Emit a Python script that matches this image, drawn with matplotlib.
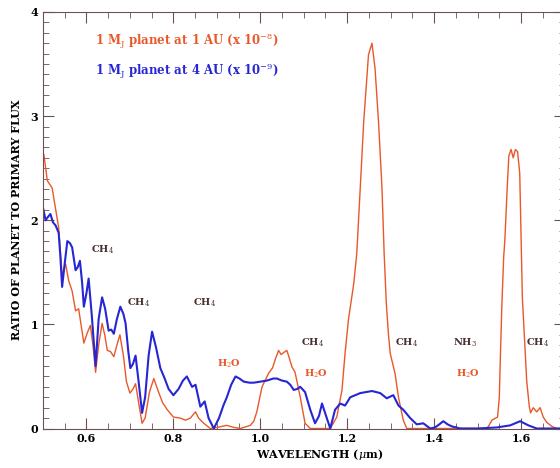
"""
Planet/primary flux ratio vs wavelength, two planet cases.
"""

import matplotlib
matplotlib.use("Agg")
import matplotlib.pyplot as plt
from matplotlib.ticker import MultipleLocator

# 1 M_J planet at 1 AU (x 1e-8)
wl_1au = [0.502, 0.51, 0.521, 0.536, 0.544, 0.552, 0.559, 0.567, 0.575, 0.582,
          0.594, 0.602, 0.609, 0.615, 0.621, 0.628, 0.636, 0.642, 0.648, 0.655,
          0.663, 0.670, 0.677, 0.685, 0.692, 0.700, 0.707, 0.713, 0.720, 0.728,
          0.735, 0.745, 0.755, 0.765, 0.775, 0.786, 0.800, 0.816, 0.828, 0.839,
          0.851, 0.858, 0.870, 0.885, 0.900, 0.923, 0.940, 0.954, 0.977, 0.985,
          0.992, 1.004, 1.019, 1.028, 1.035, 1.042, 1.048, 1.054, 1.061, 1.065,
          1.073, 1.080, 1.092, 1.103, 1.115, 1.140, 1.161, 1.176, 1.188, 1.195,
          1.203, 1.215, 1.222, 1.230, 1.238, 1.249, 1.257, 1.264, 1.272, 1.280,
          1.285, 1.290, 1.295, 1.299, 1.310, 1.318, 1.329, 1.337, 1.400, 1.460,
          1.520, 1.525, 1.533, 1.546, 1.550, 1.552, 1.556, 1.560, 1.563, 1.568,
          1.572, 1.577, 1.582, 1.587, 1.592, 1.597, 1.603, 1.609, 1.613, 1.619,
          1.622, 1.628, 1.636, 1.644, 1.651, 1.659, 1.671, 1.682, 1.700]
flux_1au = [2.63, 2.38, 2.31, 1.93, 1.47, 1.58, 1.42, 1.32, 1.13, 1.15,
            0.82, 0.92, 0.99, 0.80, 0.54, 0.80, 1.01, 0.90, 0.75, 0.74,
            0.69, 0.80, 0.90, 0.70, 0.45, 0.34, 0.38, 0.43, 0.25, 0.05,
            0.10, 0.35, 0.48, 0.36, 0.25, 0.18, 0.11, 0.10, 0.08, 0.10,
            0.16, 0.10, 0.05, 0.00, 0.01, 0.03, 0.01, 0.00, 0.03, 0.07,
            0.16, 0.40, 0.53, 0.58, 0.67, 0.75, 0.71, 0.73, 0.75, 0.70,
            0.59, 0.54, 0.30, 0.05, 0.00, 0.00, 0.00, 0.11, 0.37, 0.72,
            1.05, 1.39, 1.68, 2.31, 2.95, 3.59, 3.70, 3.46, 2.95, 2.31,
            1.68, 1.20, 0.90, 0.72, 0.53, 0.30, 0.08, 0.00, 0.00, 0.00,
            0.00, 0.02, 0.08, 0.11, 0.30, 0.62, 1.20, 1.64, 1.83, 2.30,
            2.62, 2.68, 2.60, 2.68, 2.66, 2.45, 1.26, 0.78, 0.46, 0.21,
            0.15, 0.20, 0.16, 0.20, 0.11, 0.06, 0.02, 0.00, 0.00]

# 1 M_J planet at 4 AU (x 1e-9)
wl_4au = [0.500, 0.506, 0.511, 0.517, 0.523, 0.529, 0.536, 0.540, 0.544, 0.549,
          0.556, 0.562, 0.567, 0.575, 0.580, 0.585, 0.590, 0.594, 0.600, 0.605,
          0.612, 0.621, 0.628, 0.636, 0.643, 0.651, 0.657, 0.663, 0.670, 0.678,
          0.685, 0.690, 0.696, 0.701, 0.707, 0.713, 0.720, 0.728, 0.735, 0.743,
          0.751, 0.760, 0.770, 0.780, 0.789, 0.800, 0.812, 0.822, 0.831, 0.843,
          0.851, 0.862, 0.872, 0.881, 0.893, 0.905, 0.915, 0.923, 0.933, 0.943,
          0.952, 0.962, 0.975, 0.985, 1.000, 1.015, 1.030, 1.038, 1.050, 1.061,
          1.069, 1.077, 1.085, 1.092, 1.103, 1.115, 1.126, 1.135, 1.142, 1.153,
          1.161, 1.172, 1.184, 1.195, 1.207, 1.230, 1.257, 1.276, 1.291, 1.306,
          1.318, 1.329, 1.345, 1.360, 1.375, 1.391, 1.402, 1.412, 1.421, 1.431,
          1.441, 1.460, 1.500, 1.544, 1.575, 1.598, 1.617, 1.636, 1.700]
flux_4au = [2.12, 2.00, 2.03, 2.06, 1.98, 1.95, 1.88, 1.65, 1.36, 1.55,
            1.80, 1.78, 1.74, 1.52, 1.55, 1.61, 1.40, 1.17, 1.30, 1.44,
            1.10, 0.60, 1.05, 1.26, 1.15, 0.94, 0.95, 0.91, 1.05, 1.17,
            1.10, 1.01, 0.75, 0.58, 0.62, 0.70, 0.45, 0.15, 0.30, 0.70,
            0.93, 0.78, 0.58, 0.48, 0.38, 0.32, 0.38, 0.46, 0.50, 0.40,
            0.42, 0.21, 0.26, 0.10, 0.00, 0.10, 0.22, 0.30, 0.42, 0.50,
            0.48, 0.45, 0.44, 0.44, 0.45, 0.46, 0.48, 0.48, 0.46, 0.45,
            0.42, 0.37, 0.38, 0.40, 0.35, 0.18, 0.05, 0.12, 0.24, 0.10,
            0.00, 0.18, 0.24, 0.22, 0.30, 0.34, 0.36, 0.34, 0.29, 0.32,
            0.22, 0.18, 0.10, 0.04, 0.05, 0.00, 0.01, 0.04, 0.07, 0.04,
            0.02, 0.00, 0.00, 0.01, 0.03, 0.07, 0.03, 0.00, 0.00]

# band labels
band_text = [r"CH$_4$", r"CH$_4$", r"CH$_4$", r"H$_2$O", r"CH$_4$", r"H$_2$O",
             r"CH$_4$", r"NH$_3$", r"H$_2$O", r"CH$_4$"]
band_x = [0.638, 0.720, 0.872, 0.927, 1.121, 1.129, 1.336, 1.470, 1.478, 1.639]
band_y = [1.72, 1.21, 1.21, 0.62, 0.82, 0.53, 0.82, 0.82, 0.53, 0.82]
band_water = [False, False, False, True, False, True, False, False, True, False]

orange = "#e8582a"
blue = "#2626d4"
brown = "#4a3030"
spine_col = "#6e5050"

plt.rcParams["font.family"] = "DejaVu Serif"
plt.rcParams["mathtext.fontset"] = "dejavuserif"

fig = plt.figure(figsize=(5.6, 4.68), dpi=100)
ax = fig.add_axes([43 / 560, (468 - 428.5) / 468, (564.5 - 43) / 560, (428.5 - 12) / 468])

ax.plot(wl_1au, flux_1au, color=orange, lw=1.0)
ax.plot(wl_4au, flux_4au, color=blue, lw=1.5)

ax.set_xlim(0.5, 1.7)
ax.set_ylim(0, 4)
ax.xaxis.set_major_locator(MultipleLocator(0.2))
ax.xaxis.set_minor_locator(MultipleLocator(0.05))
ax.yaxis.set_major_locator(MultipleLocator(1))
ax.yaxis.set_minor_locator(MultipleLocator(0.1))
ax.set_xticks([0.6, 0.8, 1.0, 1.2, 1.4, 1.6])
ax.set_xticklabels(["0.6", "0.8", "1.0", "1.2", "1.4", "1.6"])
ax.tick_params(which="both", direction="in", top=True, right=True,
               color=spine_col, labelsize=8)
ax.tick_params(which="major", length=8)
ax.tick_params(which="minor", length=4)
for lab in ax.get_xticklabels() + ax.get_yticklabels():
    lab.set_fontweight("bold")
for s in ax.spines.values():
    s.set_color(spine_col)

ax.set_xlabel(r"WAVELENGTH ($\mu$m)", fontsize=8, fontweight="bold")
ax.xaxis.set_label_coords(0.53, -0.045)
ax.set_ylabel("RATIO OF PLANET TO PRIMARY FLUX", fontsize=8, fontweight="bold",
              labelpad=6)

ax.text(0.62, 3.72, r"1 M$_{\rm J}$ planet at 1 AU (x 10$^{-8}$)", color=orange,
        fontsize=8.5, fontweight="bold", va="center")
ax.text(0.62, 3.43, r"1 M$_{\rm J}$ planet at 4 AU (x 10$^{-9}$)", color=blue,
        fontsize=8.5, fontweight="bold", va="center")

for t, x, y, w in zip(band_text, band_x, band_y, band_water):
    ax.text(x, y, t, color=orange if w else brown, fontsize=7,
            ha="center", va="center", fontweight="bold")

fig.savefig("out.png", dpi=100)
